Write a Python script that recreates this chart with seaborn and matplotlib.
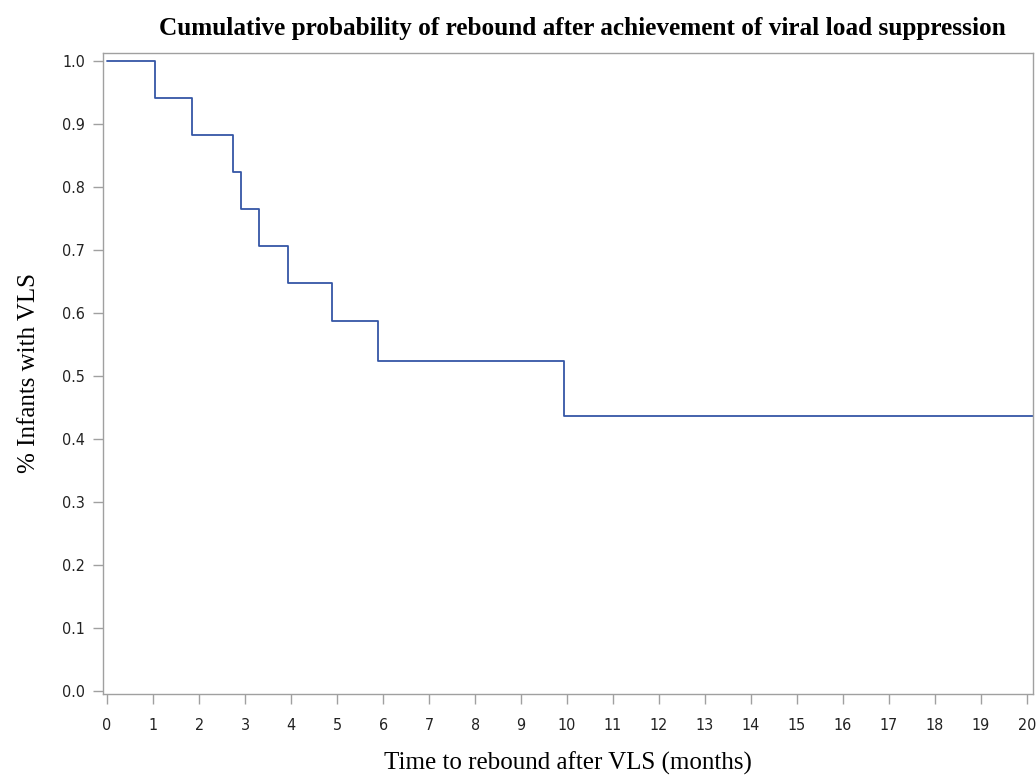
import seaborn as sns
import matplotlib.pyplot as plt
import pandas as pd

# tiempos de rebote (meses) y probabilidad acumulada
tiempo = [0, 1.04, 1.85, 2.74, 2.91, 3.30, 3.93, 4.89, 5.89, 9.93, 20.2]
prob = [1.0, 0.941, 0.882, 0.824, 0.765, 0.706, 0.647, 0.588, 0.523, 0.436, 0.436]
xticks = list(range(0, 21))
yticks = [0.0, 0.1, 0.2, 0.3, 0.4, 0.5, 0.6, 0.7, 0.8, 0.9, 1.0]

datos = pd.DataFrame({"tiempo": tiempo, "prob": prob})

sns.set_style("white")
fig = plt.figure(figsize=(10.36, 7.78), dpi=100)
ax = fig.add_axes([0.0994, 0.108, 0.8977, 0.824])

sns.lineplot(data=datos, x="tiempo", y="prob", drawstyle="steps-post",
             color="#3556A6", linewidth=1.3, ax=ax)

ax.set_xlim(-0.09, 20.13)
ax.set_ylim(-0.005, 1.013)
ax.set_xticks(xticks)
ax.set_yticks(yticks)
ax.set_xticklabels([str(t) for t in xticks], fontsize=11.5, family="DejaVu Sans",
                   fontstretch="condensed", color="#222222")
ax.set_yticklabels([f"{t:.1f}" for t in yticks], fontsize=11.5, family="DejaVu Sans",
                   fontstretch="condensed", color="#222222")
ax.tick_params(axis="x", direction="out", length=7, width=1, color="#a0a0a0", pad=10, bottom=True)
ax.tick_params(axis="y", direction="out", length=7, width=1, color="#a0a0a0", pad=6, left=True)

for s in ax.spines.values():
    s.set_color("#a0a0a0")
    s.set_linewidth(1)

# titulos y etiquetas
ax.set_title("Cumulative probability of rebound after achievement of viral load suppression",
             fontsize=18.2, fontweight="bold", family="Liberation Serif", pad=13,
             color="black", x=0.516)
ax.set_xlabel("Time to rebound after VLS (months)", fontsize=18, family="Liberation Serif",
              labelpad=14, color="black")
ax.set_ylabel("% Infants with VLS", fontsize=18, family="Liberation Serif",
              labelpad=16, color="black")

plt.savefig("out.png", dpi=100)
